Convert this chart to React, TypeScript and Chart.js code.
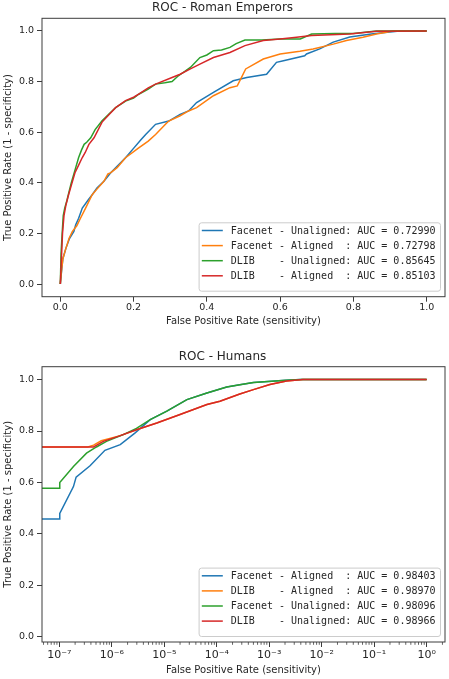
import React, { useEffect, useRef } from "react";
import { Chart, registerables } from "chart.js";

Chart.register(...registerables);
Chart.defaults.font.family = "'DejaVu Sans', sans-serif";

const COLORS = ["#1f77b4", "#ff7f0e", "#2ca02c", "#d62728"];

// ---------- ROC - Roman Emperors (linear axes) ----------
const emperorsTitle = "ROC - Roman Emperors";
const emperorsLabels = [
  "Facenet - Unaligned: AUC = 0.72990",
  "Facenet - Aligned  : AUC = 0.72798",
  "DLIB    - Unaligned: AUC = 0.85645",
  "DLIB    - Aligned  : AUC = 0.85103",
];
const emFacenetUnalignedFpr = [0, 0.004, 0.007, 0.015, 0.025, 0.037, 0.042, 0.05, 0.06, 0.075, 0.087, 0.1, 0.119, 0.137, 0.155, 0.178, 0.201, 0.22, 0.233, 0.26, 0.296, 0.327, 0.35, 0.372, 0.418, 0.472, 0.509, 0.563, 0.59, 0.609, 0.667, 0.672, 0.708, 0.745, 0.79, 0.854, 0.926, 1];
const emFacenetUnalignedTpr = [0, 0.06, 0.1, 0.14, 0.18, 0.208, 0.234, 0.26, 0.3, 0.33, 0.353, 0.38, 0.406, 0.439, 0.465, 0.499, 0.538, 0.57, 0.591, 0.631, 0.644, 0.67, 0.684, 0.717, 0.757, 0.803, 0.816, 0.829, 0.876, 0.882, 0.902, 0.909, 0.929, 0.956, 0.976, 0.989, 1.0, 1.0];
const emFacenetAlignedFpr = [0, 0.003, 0.007, 0.015, 0.024, 0.033, 0.045, 0.055, 0.069, 0.087, 0.1, 0.119, 0.13, 0.137, 0.155, 0.178, 0.214, 0.24, 0.26, 0.287, 0.296, 0.327, 0.35, 0.372, 0.418, 0.463, 0.483, 0.506, 0.554, 0.6, 0.654, 0.69, 0.745, 0.781, 0.826, 0.863, 0.908, 1];
const emFacenetAlignedTpr = [0, 0.05, 0.1, 0.14, 0.181, 0.208, 0.23, 0.26, 0.3, 0.353, 0.375, 0.406, 0.435, 0.439, 0.46, 0.499, 0.538, 0.565, 0.591, 0.631, 0.644, 0.665, 0.684, 0.697, 0.744, 0.776, 0.783, 0.85, 0.889, 0.909, 0.92, 0.929, 0.948, 0.962, 0.975, 0.988, 1.0, 1.0];
const emDlibUnalignedFpr = [0, 0.002, 0.005, 0.008, 0.012, 0.018, 0.024, 0.03, 0.036, 0.042, 0.05, 0.058, 0.065, 0.072, 0.083, 0.095, 0.114, 0.13, 0.151, 0.178, 0.2, 0.214, 0.24, 0.26, 0.285, 0.305, 0.32, 0.355, 0.381, 0.4, 0.418, 0.44, 0.463, 0.48, 0.504, 0.55, 0.6, 0.655, 0.686, 0.75, 0.8, 0.863, 1];
const emDlibUnalignedTpr = [0, 0.12, 0.2, 0.27, 0.3, 0.33, 0.366, 0.4, 0.43, 0.46, 0.5, 0.53, 0.552, 0.56, 0.578, 0.61, 0.645, 0.668, 0.697, 0.723, 0.735, 0.75, 0.77, 0.79, 0.795, 0.8, 0.82, 0.856, 0.895, 0.905, 0.922, 0.925, 0.935, 0.95, 0.964, 0.964, 0.968, 0.968, 0.988, 0.99, 0.99, 1.0, 1.0];
const emDlibAlignedFpr = [0, 0.003, 0.006, 0.01, 0.015, 0.022, 0.03, 0.04, 0.05, 0.06, 0.068, 0.078, 0.092, 0.1, 0.114, 0.13, 0.151, 0.178, 0.2, 0.214, 0.24, 0.26, 0.305, 0.327, 0.355, 0.381, 0.418, 0.463, 0.504, 0.554, 0.6, 0.645, 0.686, 0.79, 0.863, 1];
const emDlibAlignedTpr = [0, 0.1, 0.2, 0.27, 0.31, 0.35, 0.39, 0.44, 0.47, 0.5, 0.52, 0.552, 0.578, 0.6, 0.64, 0.665, 0.697, 0.725, 0.738, 0.75, 0.775, 0.79, 0.816, 0.829, 0.85, 0.869, 0.895, 0.915, 0.942, 0.962, 0.968, 0.975, 0.982, 0.988, 0.999, 1.0];

// ---------- ROC - Humans (log x axis) ----------
const humansTitle = "ROC - Humans";
const humansLabels = [
  "Facenet - Aligned  : AUC = 0.98403",
  "DLIB    - Aligned  : AUC = 0.98970",
  "Facenet - Unaligned: AUC = 0.98096",
  "DLIB    - Unaligned: AUC = 0.98966",
];
const huFacenetAlignedFpr = [1e-8, 1e-7, 1.02e-7, 1.86e-7, 2.09e-7, 3.85e-7, 7.4e-7, 1.45e-6, 2.75e-6, 5.4e-6, 1.12e-5, 2.7e-5, 6.5e-5, 1.55e-4, 2.75e-4, 5e-4, 2.1e-3, 4e-3, 1];
const huFacenetAlignedTpr = [0.458, 0.458, 0.48, 0.584, 0.621, 0.665, 0.725, 0.747, 0.792, 0.844, 0.877, 0.922, 0.948, 0.971, 0.98, 0.989, 0.997, 1.0, 1.0];
const huDlibAlignedFpr = [1e-8, 3.5e-7, 4.5e-7, 6.3e-7, 1.45e-6, 2.95e-6, 7.2e-6, 2e-5, 6.5e-5, 1.15e-4, 2.75e-4, 5e-4, 1.03e-3, 2.14e-3, 4.4e-3, 1];
const huDlibAlignedTpr = [0.738, 0.738, 0.745, 0.762, 0.782, 0.805, 0.831, 0.864, 0.903, 0.916, 0.944, 0.961, 0.981, 0.994, 1.0, 1.0];
const huFacenetUnalignedFpr = [1e-8, 1e-7, 1.02e-7, 1.86e-7, 3.3e-7, 5.1e-7, 7.9e-7, 1.66e-6, 2.95e-6, 5.4e-6, 1.12e-5, 2.7e-5, 6.5e-5, 1.55e-4, 2.75e-4, 5e-4, 2.1e-3, 4e-3, 1];
const huFacenetUnalignedTpr = [0.578, 0.578, 0.6, 0.662, 0.714, 0.738, 0.76, 0.786, 0.81, 0.844, 0.877, 0.922, 0.948, 0.971, 0.98, 0.989, 0.997, 1.0, 1.0];
const huDlibUnalignedFpr = [1e-8, 4.5e-7, 6.9e-7, 1.45e-6, 2.95e-6, 7.2e-6, 2e-5, 6.5e-5, 1.15e-4, 2.75e-4, 5e-4, 1.03e-3, 2.14e-3, 4.4e-3, 1];
const huDlibUnalignedTpr = [0.738, 0.738, 0.76, 0.782, 0.805, 0.831, 0.864, 0.903, 0.916, 0.944, 0.961, 0.981, 0.994, 1.0, 1.0];

// ---------- ticks / labels ----------
const linearTicks = [0, 0.2, 0.4, 0.6, 0.8, 1.0];
const logTicks = [1e-7, 1e-6, 1e-5, 1e-4, 1e-3, 1e-2, 1e-1, 1];
const logTickLabels = ["10⁻⁷", "10⁻⁶", "10⁻⁵", "10⁻⁴", "10⁻³", "10⁻²", "10⁻¹", "10⁰"];
const xAxisTitle = "False Positive Rate (sensitivity)";
const yAxisTitle = "True Positive Rate (1 - specificity)";

const TEXT = "#262626";
const SPINE = "#3c3c3c";

const toPoints = (xs: number[], ys: number[]) => xs.map((x, i) => ({ x, y: ys[i] }));

const makeDatasets = (labels: string[], series: [number[], number[]][]) =>
  series.map(([xs, ys], i) => ({
    label: labels[i],
    data: toPoints(xs, ys),
    borderColor: COLORS[i],
    backgroundColor: COLORS[i],
    borderWidth: 1.5,
    pointRadius: 0,
    tension: 0,
    fill: false,
    order: series.length - i,
  }));

const decorPlugin = {
  id: "decor",
  afterDraw(chart: any, _args: any, opts: any) {
    const { ctx, chartArea: a } = chart;
    ctx.save();
    // minor ticks for log axis
    if (opts.minorLog) {
      const xs = chart.scales.x;
      ctx.strokeStyle = SPINE;
      ctx.lineWidth = 0.8;
      ctx.beginPath();
      for (let e = -9; e <= 0; e++) {
        for (let m = 2; m <= 9; m++) {
          const v = m * Math.pow(10, e);
          if (v < xs.min || v > xs.max) continue;
          const px = xs.getPixelForValue(v);
          ctx.moveTo(px, a.bottom);
          ctx.lineTo(px, a.bottom + 2.8);
        }
      }
      ctx.stroke();
    }
    // frame
    ctx.strokeStyle = SPINE;
    ctx.lineWidth = 1;
    ctx.strokeRect(a.left, a.top, a.right - a.left, a.bottom - a.top);
    // legend (lower right)
    const ds = chart.data.datasets;
    ctx.font = "10px 'DejaVu Sans Mono', monospace";
    let tw = 0;
    ds.forEach((d: any) => (tw = Math.max(tw, ctx.measureText(d.label).width)));
    const rowH = 15.1;
    const boxW = 31.7 + tw + 5;
    const boxH = 8 + rowH * ds.length;
    const bx = a.right - 4.5 - boxW;
    const by = a.bottom - 5.5 - boxH;
    ctx.beginPath();
    if (ctx.roundRect) ctx.roundRect(bx, by, boxW, boxH, 2.5);
    else ctx.rect(bx, by, boxW, boxH);
    ctx.fillStyle = "rgba(255,255,255,0.85)";
    ctx.fill();
    ctx.strokeStyle = "#cccccc";
    ctx.lineWidth = 1;
    ctx.stroke();
    ctx.textBaseline = "middle";
    ctx.textAlign = "left";
    ds.forEach((d: any, i: number) => {
      const cy = by + 7.7 + rowH * i;
      ctx.strokeStyle = d.borderColor;
      ctx.lineWidth = 1.5;
      ctx.beginPath();
      ctx.moveTo(bx + 2.7, cy);
      ctx.lineTo(bx + 23.7, cy);
      ctx.stroke();
      ctx.fillStyle = TEXT;
      ctx.fillText(d.label, bx + 31.7, cy + 0.5);
    });
    ctx.restore();
  },
};

const commonY = (min: number, max: number) => ({
  type: "linear",
  min,
  max,
  afterFit: (s: any) => {
    s.width = 42;
  },
  afterBuildTicks: (s: any) => {
    s.ticks = linearTicks.map((v) => ({ value: v }));
  },
  border: { display: false },
  grid: { display: true, drawOnChartArea: false, drawTicks: true, tickLength: 5, tickColor: SPINE, tickWidth: 1 },
  ticks: {
    autoSkip: false,
    padding: 3,
    color: TEXT,
    font: { size: 9.5 },
    callback: (v: any) => Number(v).toFixed(1),
  },
  title: { display: true, text: yAxisTitle, color: TEXT, font: { size: 10 }, padding: { top: 2.8, bottom: 0 } },
});

function makeEmperorsConfig(): any {
  return {
    type: "line",
    data: {
      datasets: makeDatasets(emperorsLabels, [
        [emFacenetUnalignedFpr, emFacenetUnalignedTpr],
        [emFacenetAlignedFpr, emFacenetAlignedTpr],
        [emDlibUnalignedFpr, emDlibUnalignedTpr],
        [emDlibAlignedFpr, emDlibAlignedTpr],
      ]),
    },
    options: {
      responsive: false,
      animation: false,
      devicePixelRatio: 1,
      layout: { padding: { left: 0, right: 4, top: 0, bottom: 0 } },
      plugins: {
        legend: { display: false },
        tooltip: { enabled: false },
        title: {
          display: true,
          text: emperorsTitle,
          color: TEXT,
          font: { size: 12, weight: "normal" },
          padding: { top: 1.1, bottom: 2.8 },
        },
        decor: { minorLog: false },
      },
      scales: {
        x: {
          type: "linear",
          min: -0.05,
          max: 1.05,
          afterFit: (s: any) => {
            s.height = 33.3;
          },
          afterBuildTicks: (s: any) => {
            s.ticks = linearTicks.map((v) => ({ value: v }));
          },
          border: { display: false },
          grid: { display: true, drawOnChartArea: false, drawTicks: true, tickLength: 5, tickColor: SPINE, tickWidth: 1 },
          ticks: {
            autoSkip: false,
            maxRotation: 0,
            padding: 0,
            color: TEXT,
            font: { size: 9.5 },
            callback: (v: any) => Number(v).toFixed(1),
          },
          title: { display: true, text: xAxisTitle, color: TEXT, font: { size: 10 }, padding: { top: 0, bottom: 2.3 } },
        },
        y: commonY(-0.05, 1.05),
      },
    },
    plugins: [decorPlugin],
  };
}

function makeHumansConfig(): any {
  return {
    type: "line",
    data: {
      datasets: makeDatasets(humansLabels, [
        [huFacenetAlignedFpr, huFacenetAlignedTpr],
        [huDlibAlignedFpr, huDlibAlignedTpr],
        [huFacenetUnalignedFpr, huFacenetUnalignedTpr],
        [huDlibUnalignedFpr, huDlibUnalignedTpr],
      ]),
    },
    options: {
      responsive: false,
      animation: false,
      devicePixelRatio: 1,
      layout: { padding: { left: 0, right: 4, top: 0, bottom: 0 } },
      plugins: {
        legend: { display: false },
        tooltip: { enabled: false },
        title: {
          display: true,
          text: humansTitle,
          color: TEXT,
          font: { size: 12, weight: "normal" },
          padding: { top: 19.8, bottom: 2.5 },
        },
        decor: { minorLog: true },
      },
      scales: {
        x: {
          type: "logarithmic",
          min: Math.pow(10, -7.33),
          max: Math.pow(10, 0.35),
          afterFit: (s: any) => {
            s.height = 37;
          },
          afterBuildTicks: (s: any) => {
            s.ticks = logTicks.map((v) => ({ value: v, major: true }));
          },
          border: { display: false },
          grid: { display: true, drawOnChartArea: false, drawTicks: true, tickLength: 5, tickColor: SPINE, tickWidth: 1 },
          ticks: {
            autoSkip: false,
            maxRotation: 0,
            padding: 1.4,
            color: TEXT,
            font: { size: 11 },
            major: { enabled: false },
            callback: (_v: any, i: number) => logTickLabels[i],
          },
          title: { display: true, text: xAxisTitle, color: TEXT, font: { size: 10 }, padding: { top: 0, bottom: 3 } },
        },
        y: commonY(-0.02, 1.05),
      },
    },
    plugins: [decorPlugin],
  };
}

function ChartCanvas({ make, top, width, height }: { make: () => any; top: number; width: number; height: number }) {
  const ref = useRef<HTMLCanvasElement>(null);
  useEffect(() => {
    const chart = new Chart(ref.current as HTMLCanvasElement, make());
    return () => chart.destroy();
  }, [make]);
  return (
    <canvas
      ref={ref}
      width={width}
      height={height}
      style={{ position: "absolute", left: 0, top, width, height, display: "block" }}
    />
  );
}

export default function App() {
  return (
    <div style={{ position: "absolute", left: 0, top: 0, width: 449, height: 679, background: "#ffffff", overflow: "hidden" }}>
      <ChartCanvas make={makeEmperorsConfig} top={0} width={449} height={330} />
      <ChartCanvas make={makeHumansConfig} top={330} width={449} height={349} />
    </div>
  );
}
